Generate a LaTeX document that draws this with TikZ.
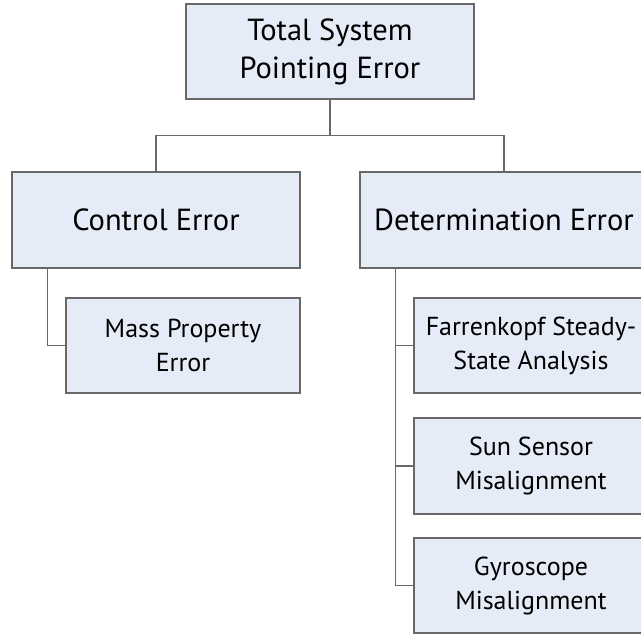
\documentclass[tikz,border=0pt]{standalone}
\usepackage{fontspec}
\setmainfont{PT Sans}
\usetikzlibrary{positioning}
\definecolor{boxfill}{HTML}{E6ECF7}
\definecolor{boxline}{HTML}{686868}
\begin{document}
\begin{tikzpicture}[x=1pt,y=-1pt,
  box/.style={draw=boxline, fill=boxfill, line width=1.4pt, inner sep=0pt,
    align=center, text=black},
  bigbox/.style={box, minimum width=288pt, minimum height=96pt,
    font=\fontsize{30.5}{38}\selectfont},
  smallbox/.style={box, minimum width=234pt, minimum height=95pt,
    font=\fontsize{26}{34}\selectfont},
  link/.style={draw=boxline, line width=1.4pt}]
\useasboundingbox (0,0) rectangle (641,634);
\clip (0,0) rectangle (641,634);
\fill[white] (0,0) rectangle (641,634);

\node[bigbox, minimum height=95pt] (top) at (330,51.5) {Total System\\Pointing Error};
\node[bigbox] (ctrl) at (156,220) {Control Error};
\node[bigbox] (det) at (504,220) {Determination Error};
\node[smallbox] (mass) at (183,345.5) {Mass Property\\Error};
\node[smallbox] (farr) at (531,345.5) {Farrenkopf Steady-\\State Analysis};
\node[smallbox, minimum height=96pt] (sun) at (531,466) {Sun Sensor\\Misalignment};
\node[smallbox] (gyro) at (531,585.5) {Gyroscope\\Misalignment};

\draw[link] (top.south) -- ++(0,36) coordinate (fork);
\draw[link] (ctrl.north) |- (fork) -| (det.north);
\draw[link] ([xshift=36pt]ctrl.south west) |- (mass.west);
\draw[link] ([xshift=36pt]det.south west) |- (farr.west);
\draw[link] ([xshift=36pt]det.south west) |- (sun.west);
\draw[link] ([xshift=36pt]det.south west) |- (gyro.west);
\end{tikzpicture}
\end{document}
